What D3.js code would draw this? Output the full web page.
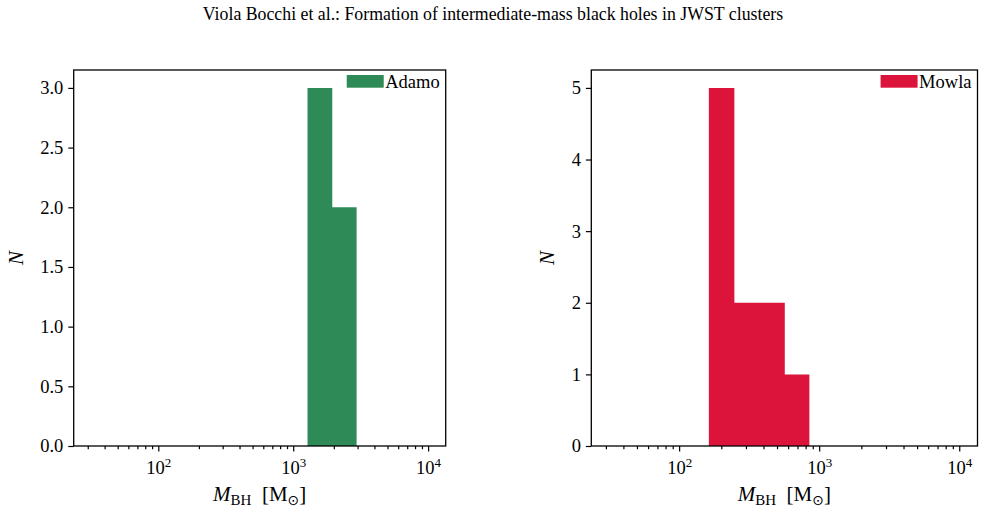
<!DOCTYPE html>
<html>
<head>
<meta charset="utf-8">
<script src="https://cdn.jsdelivr.net/npm/d3@7"></script>
<style>
  body { margin: 0; background: #fff; }
  text { font-family: "Liberation Serif", "DejaVu Serif", serif; fill: #000; }
</style>
</head>
<body>
<div id="chart"></div>
<script>
/* data */
var titleText = "Viola Bocchi et al.: Formation of intermediate-mass black holes in JWST clusters";
var xLim = [23.6, 13500];
var xMajor = [100, 1000, 10000];
var xMinor = [30, 40, 50, 60, 70, 80, 90, 200, 300, 400, 500, 600, 700, 800, 900,
  2000, 3000, 4000, 5000, 6000, 7000, 8000, 9000];
var adamoEdges = [1277, 1948, 2951];
var adamoCounts = [3, 2];
var adamoYTicks = [0, 0.5, 1, 1.5, 2, 2.5, 3];
var adamoYMax = 3.15;
var mowlaEdges = [163, 248, 376, 568, 851];
var mowlaCounts = [5, 2, 2, 1];
var mowlaYTicks = [0, 1, 2, 3, 4, 5];
var mowlaYMax = 5.25;

var W = 985, H = 515;
var svg = d3.select("#chart").append("svg")
  .attr("width", W)
  .attr("height", H);

svg.append("text")
  .attr("x", 493)
  .attr("y", 20)
  .attr("text-anchor", "middle")
  .style("font-size", "17.8px")
  .text(titleText);

var panels = [
  { left: 73.7, right: 445.7, edges: adamoEdges, counts: adamoCounts, yTicks: adamoYTicks,
    yMax: adamoYMax, fmt: d3.format(".1f"), color: "#2E8B57", name: "Adamo", ylabOff: 58 },
  { left: 591.3, right: 977.5, edges: mowlaEdges, counts: mowlaCounts, yTicks: mowlaYTicks,
    yMax: mowlaYMax, fmt: d3.format("d"), color: "#DC143C", name: "Mowla", ylabOff: 45 }
];
var plotTop = 70, plotBottom = 446;

panels.forEach(function(p) {
  var x = d3.scaleLog().domain(xLim).range([p.left, p.right]);
  var y = d3.scaleLinear().domain([0, p.yMax]).range([plotBottom, plotTop]);
  var g = svg.append("g");

  /* histogram bars, one path per panel so no seams between bins */
  var area = d3.area()
    .curve(d3.curveStepAfter)
    .x(function(d) { return x(d[0]); })
    .y0(y(0))
    .y1(function(d) { return y(d[1]); });
  var steps = p.edges.map(function(e, i) {
    return [e, i < p.counts.length ? p.counts[i] : 0];
  });
  g.append("path")
    .datum(steps)
    .attr("class", "bar")
    .attr("d", area)
    .attr("fill", p.color);

  /* x axis: minor then major */
  var gxm = g.append("g")
    .attr("transform", "translate(0," + plotBottom + ")")
    .call(d3.axisBottom(x).tickValues(xMinor).tickSize(3.2).tickFormat(""));
  var gx = g.append("g")
    .attr("transform", "translate(0," + plotBottom + ")")
    .call(d3.axisBottom(x).tickValues(xMajor).tickSize(5.4).tickPadding(6)
      .tickFormat(function() { return ""; }));
  gx.selectAll(".tick text").each(function(d) {
    var t = d3.select(this)
      .attr("dy", null)
      .attr("y", 28)
      .style("font-size", "18.5px")
      .style("font-family", "'Liberation Serif', serif");
    t.append("tspan").text("10");
    t.append("tspan")
      .attr("dy", -7.5)
      .style("font-size", "13px")
      .text(Math.round(Math.log10(d)));
  });

  /* y axis */
  var gy = g.append("g")
    .attr("transform", "translate(" + p.left + ",0)")
    .call(d3.axisLeft(y).tickValues(p.yTicks).tickSize(5.4).tickPadding(5).tickFormat(p.fmt));
  gy.selectAll(".tick text")
    .style("font-size", "18.5px")
    .style("font-family", "'Liberation Serif', serif");

  [gxm, gx, gy].forEach(function(a) {
    a.select(".domain").remove();
    a.selectAll(".tick line").attr("stroke", "#000").attr("stroke-width", 1.2);
  });

  /* frame */
  g.append("rect")
    .attr("x", p.left)
    .attr("y", plotTop)
    .attr("width", p.right - p.left)
    .attr("height", plotBottom - plotTop)
    .attr("fill", "none")
    .attr("stroke", "#000")
    .attr("stroke-width", 1.3);

  /* axis labels */
  var xl = g.append("text")
    .attr("x", (p.left + p.right) / 2)
    .attr("y", 501)
    .attr("text-anchor", "middle")
    .style("font-size", "21px");
  xl.append("tspan").style("font-style", "italic").text("M");
  xl.append("tspan").attr("dy", 4).style("font-size", "15px").text("BH");
  xl.append("tspan").attr("dy", -4).text("\u2002[M");
  xl.append("tspan").attr("dy", 4).style("font-size", "14px")
    .style("font-family", "'DejaVu Sans', sans-serif").text("\u2299");
  xl.append("tspan").attr("dy", -4).text("]");

  g.append("text")
    .attr("transform", "translate(" + (p.left - p.ylabOff) + "," + ((plotTop + plotBottom) / 2) + ") rotate(-90)")
    .attr("text-anchor", "middle")
    .attr("dy", "0.35em")
    .style("font-size", "21px")
    .style("font-style", "italic")
    .text("N");

  /* legend, upper right without frame */
  var lt = g.append("text")
    .attr("x", p.right - 6)
    .attr("y", 87.5)
    .attr("text-anchor", "end")
    .style("font-size", "18.5px")
    .text(p.name);
  var tw = lt.node().getComputedTextLength();
  g.append("rect")
    .attr("x", p.right - 6 - tw - 1.5 - 37)
    .attr("y", 75)
    .attr("width", 37)
    .attr("height", 12.7)
    .attr("fill", p.color);
});
</script>
</body>
</html>
